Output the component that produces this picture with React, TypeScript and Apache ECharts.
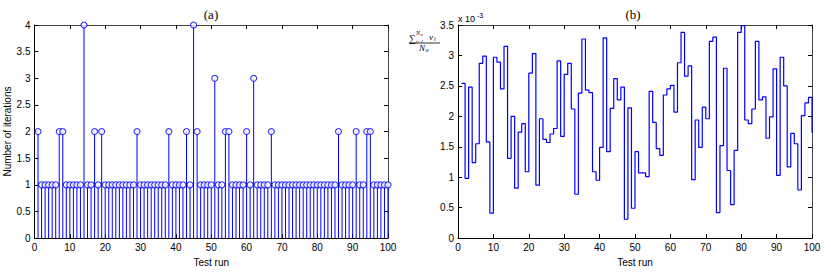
import React, { useEffect, useRef } from "react";
import * as echarts from "echarts";

// Test run index (1..100)
const runs: number[] = Array.from({ length: 100 }, (_, i) => i + 1);

// (a) Number of iterations per test run
const iterations: number[] = [
  2, 1, 1, 1, 1, 1, 2, 2, 1, 1,
  1, 1, 1, 4, 1, 1, 2, 1, 2, 1,
  1, 1, 1, 1, 1, 1, 1, 1, 2, 1,
  1, 1, 1, 1, 1, 1, 1, 2, 1, 1,
  1, 1, 2, 1, 4, 2, 1, 1, 1, 1,
  3, 1, 1, 2, 2, 1, 1, 1, 1, 2,
  1, 3, 1, 1, 1, 1, 2, 1, 1, 1,
  1, 1, 1, 1, 1, 1, 1, 1, 1, 1,
  1, 1, 1, 1, 1, 2, 1, 1, 1, 1,
  2, 1, 1, 2, 2, 1, 1, 1, 1, 1,
];

// (b) Mean of v_i, in units of 10^-3
const meanV: number[] = [
  2.54, 0.98, 2.48, 1.24, 1.55, 2.87, 2.99, 1.58, 0.41, 2.97,
  2.89, 2.45, 3.15, 1.31, 2.0, 0.82, 1.74, 1.88, 1.09, 2.71,
  3.03, 0.87, 1.96, 1.62, 1.57, 1.71, 1.8, 2.91, 1.67, 2.69,
  2.87, 2.12, 0.72, 2.38, 3.27, 2.43, 2.39, 1.09, 0.95, 1.49,
  3.29, 1.42, 2.13, 2.62, 2.27, 2.48, 0.31, 2.14, 0.49, 1.42,
  1.07, 1.07, 1.01, 2.41, 1.9, 1.47, 1.36, 2.35, 2.45, 2.51,
  2.07, 2.88, 3.38, 2.66, 2.83, 0.96, 1.94, 1.49, 2.15, 1.96,
  3.23, 3.3, 0.42, 1.52, 2.79, 1.11, 0.55, 1.44, 3.38, 3.49,
  1.94, 1.88, 2.12, 3.23, 2.27, 2.32, 1.64, 1.99, 2.78, 1.03,
  2.97, 2.5, 1.17, 1.72, 1.55, 0.79, 2.01, 2.22, 2.31, 1.73,
];

const BLUE = "#0000ff";
const FONT = "Liberation Sans";
const SERIF = "Liberation Serif";

function mkX(grid: number, bottom: boolean) {
  return {
    type: "value",
    gridIndex: grid,
    position: bottom ? "bottom" : "top",
    min: 0,
    max: 100,
    interval: 10,
    axisLine: { show: true, onZero: false, lineStyle: { color: bottom ? "#000" : "#444", width: 1 } },
    axisTick: { show: true, inside: true, length: 4, lineStyle: { color: "#000" } },
    axisLabel: { show: bottom, fontSize: 10, color: "#000", fontFamily: FONT, margin: 4 },
    splitLine: { show: false },
    name: bottom ? "Test run" : "",
    nameLocation: "middle",
    nameGap: 18,
    nameTextStyle: { fontSize: 10, color: "#000", fontFamily: FONT },
  };
}

function mkY(grid: number, left: boolean, max: number, name: string) {
  return {
    type: "value",
    gridIndex: grid,
    position: left ? "left" : "right",
    min: 0,
    max,
    interval: 0.5,
    axisLine: { show: true, onZero: false, lineStyle: { color: left ? "#000" : "#444", width: 1 } },
    axisTick: { show: true, inside: true, length: 4, lineStyle: { color: "#000" } },
    axisLabel: { show: left, fontSize: 10, color: "#000", fontFamily: FONT, margin: 4 },
    splitLine: { show: false },
    name,
    nameLocation: "middle",
    nameGap: 22,
    nameTextStyle: { fontSize: 10, color: "#000", fontFamily: FONT },
  };
}

export default function App() {
  const ref = useRef<HTMLDivElement>(null);
  useEffect(() => {
    if (!ref.current) return;
    const chart = echarts.init(ref.current, undefined, { renderer: "svg" });
    const stems = runs.map((r, i) => [r, iterations[i]]);
    const stairs = runs.map((r, i) => [r, meanV[i]]);
    chart.setOption({
      animation: false,
      backgroundColor: "#fff",
      grid: [
        { left: 34.5, top: 25, width: 353.5, height: 218 },
        { left: 458, top: 25, width: 354, height: 218 },
      ],
      xAxis: [mkX(0, true), mkX(0, false), mkX(1, true), mkX(1, false)],
      yAxis: [
        mkY(0, true, 4, "Number of iterations"),
        mkY(0, false, 4, ""),
        mkY(1, true, 3.5, ""),
        mkY(1, false, 3.5, ""),
      ],
      series: [
        {
          type: "bar",
          xAxisIndex: 0,
          yAxisIndex: 0,
          data: stems,
          barWidth: 1,
          itemStyle: { color: BLUE },
          silent: true,
        },
        {
          type: "scatter",
          xAxisIndex: 0,
          yAxisIndex: 0,
          data: stems,
          symbol: "circle",
          symbolSize: 6,
          itemStyle: { color: "#fff", borderColor: BLUE, borderWidth: 1.1 },
          z: 3,
          silent: true,
        },
        {
          type: "line",
          xAxisIndex: 2,
          yAxisIndex: 2,
          data: stairs,
          step: "end",
          showSymbol: false,
          lineStyle: { color: BLUE, width: 1.2 },
          silent: true,
        },
      ],
      graphic: [
        { type: "text", x: 211, y: 14, style: { text: "(a)", font: `13px "${SERIF}"`, fill: "#000", align: "center", verticalAlign: "middle" } },
        { type: "text", x: 633, y: 14, style: { text: "(b)", font: `13px "${SERIF}"`, fill: "#000", align: "center", verticalAlign: "middle" } },
        // x 10^-3
        { type: "text", x: 458, y: 19, style: { text: "x 10", font: `9px "${FONT}"`, fill: "#000", align: "left", verticalAlign: "middle" } },
        { type: "text", x: 477, y: 15, style: { text: "-3", font: `7px "${FONT}"`, fill: "#000", align: "left", verticalAlign: "middle" } },
        // y label fraction
        { type: "text", x: 409, y: 38, style: { text: "\u2211", font: `10px "${SERIF}"`, fill: "#000", align: "left", verticalAlign: "middle" } },
        { type: "text", x: 416, y: 33, style: { text: "N", font: `italic 6px "${SERIF}"`, fill: "#000", align: "left", verticalAlign: "middle" } },
        { type: "text", x: 420.5, y: 34.5, style: { text: "o", font: `italic 5px "${SERIF}"`, fill: "#000", align: "left", verticalAlign: "middle" } },
        { type: "text", x: 416, y: 41, style: { text: "i=1", font: `italic 5px "${SERIF}"`, fill: "#000", align: "left", verticalAlign: "middle" } },
        { type: "text", x: 429, y: 37, style: { text: "v", font: `italic 9px "${SERIF}"`, fill: "#000", align: "left", verticalAlign: "middle" } },
        { type: "text", x: 434, y: 39, style: { text: "i", font: `italic 6px "${SERIF}"`, fill: "#000", align: "left", verticalAlign: "middle" } },
        { type: "line", shape: { x1: 409, y1: 43, x2: 440, y2: 43 }, style: { stroke: "#000", lineWidth: 0.8 } },
        { type: "text", x: 419, y: 48, style: { text: "N", font: `italic 9px "${SERIF}"`, fill: "#000", align: "left", verticalAlign: "middle" } },
        { type: "text", x: 425.5, y: 50, style: { text: "o", font: `italic 6px "${SERIF}"`, fill: "#000", align: "left", verticalAlign: "middle" } },
      ],
    });
    return () => chart.dispose();
  }, []);
  return (
    <div
      ref={ref}
      style={{ position: "fixed", left: 0, top: 0, width: 831, height: 272, background: "#fff" }}
    />
  );
}
